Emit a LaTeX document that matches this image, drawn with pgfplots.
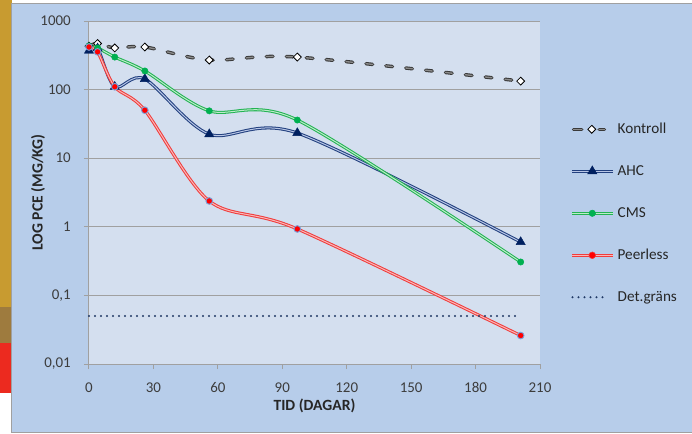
\documentclass[border=0pt]{standalone}
\usepackage{pgfplots}
\usepackage{pgfplotstable}
\pgfplotsset{compat=1.18}
\usepackage{fontspec}
\setmainfont{Carlito}
\definecolor{outerbg}{HTML}{B7CDEA}
\definecolor{plotbg}{HTML}{D4DFEF}
\definecolor{gridc}{HTML}{A0A0A0}
\definecolor{navyO}{HTML}{22407F}
\definecolor{navyI}{HTML}{B8C6E6}
\definecolor{navyM}{HTML}{002060}
\definecolor{greenO}{HTML}{22B352}
\definecolor{greenI}{HTML}{BDEBCB}
\definecolor{greenM}{HTML}{00B050}
\definecolor{redO}{HTML}{F03C3C}
\definecolor{redI}{HTML}{FAB8B8}
\definecolor{redM}{HTML}{FF0000}
\definecolor{redE}{HTML}{7C9ED6}
\definecolor{kO}{HTML}{3A3A3A}
\definecolor{kI}{HTML}{8C8C8C}
\definecolor{detc}{HTML}{1F3864}
\definecolor{txt}{HTML}{262626}
\definecolor{goldc}{HTML}{C89B30}
\definecolor{brownc}{HTML}{9E7B3E}
\definecolor{redstrip}{HTML}{EC2A1F}

\pgfplotstableread{
x y
0 430
4 470
12 405
26 418
56 270
97 298
201 133
}\kontroll
\pgfplotstableread{
x y
0 370
4 400
12 110
26 143
56 22.4
97 23.3
201 0.6
}\ahc
\pgfplotstableread{
x y
0 433
4 405
12 298
26 187
56 49
97 36
201 0.307
}\cms
\pgfplotstableread{
x y
0 418
4 355
12 110
26 50
56 2.38
97 0.93
201 0.026
}\peerless
\pgfplotstableread{
x y
0 0.05
201 0.05
}\det

\begin{document}
\begin{tikzpicture}
% backgrounds (pixel -> pt: x=(px-89)*0.75, y=(364-py)*0.75)
\fill[white] (-66.75pt,-51.75pt) rectangle (452.25pt,273pt);
\fill[goldc] (-66.75pt,42.75pt) rectangle (-57.75pt,273pt);
\fill[brownc] (-66.75pt,15.75pt) rectangle (-57.75pt,42.75pt);
\fill[redstrip] (-66.75pt,-21.75pt) rectangle (-57.75pt,15.75pt);
\filldraw[fill=outerbg, draw=gridc, line width=0.75pt] (-57.75pt,-51pt) rectangle (453pt,270pt);
\begin{axis}[
  at={(0pt,0pt)}, anchor=south west,
  scale only axis, width=338.25pt, height=257.25pt,
  clip=false,
  axis background/.style={fill=plotbg},
  xmin=0, xmax=210, ymode=log, ymin=0.01, ymax=1000,
  xtick={0,30,...,210},
  xticklabels={0,30,60,90,120,150,180,210},
  ytick={0.01,0.1,1,10,100,1000},
  yticklabels={{0,01},{0,1},1,10,100,1000},
  yminorticks=false,
  axis x line*=bottom, axis y line*=left,
  axis line style={gridc, line width=0.75pt, -},
  tick style={gridc, line width=0.75pt},
  major tick length=3.75pt, tick align=outside,
  ymajorgrids, grid style={gridc, line width=0.75pt},
  ticklabel style={font=\fontsize{11.2}{13}\selectfont, text=txt!90!white, inner sep=0pt},
  xticklabel style={anchor=base, yshift=-17.25pt},
  yticklabel style={anchor=east, xshift=-9.75pt},
  xlabel={TID (DAGAR)}, ylabel={LOG PCE (MG/KG)},
  label style={font=\bfseries\fontsize{11.7}{13}\selectfont, text=txt},
  xlabel style={at={(axis description cs:0.5,-0.1224)}, anchor=center},
  ylabel style={at={(axis description cs:-0.1131,0.5)}, anchor=center},
  legend style={at={(axis description cs:1.0665,0.7026)}, anchor=north west,
    draw=none, fill=none, inner sep=0pt, row sep=22.5pt, column sep=2.5pt,
    font=\fontsize{11.4}{13}\selectfont, text=txt,
    nodes={inner sep=0pt, text height=8pt, text depth=1pt}},
  legend cell align=left,
]
% Kontroll
\addplot[kO, line width=2.6pt, line cap=round, dash pattern=on 5pt off 10pt, smooth, forget plot] table {\kontroll};
\addplot[kI, line width=1pt, line cap=round, dash pattern=on 5pt off 10pt, smooth, forget plot] table {\kontroll};
\addplot[only marks, mark=square*, mark size=2.1pt, mark options={rotate=45, fill=white, draw=black, line width=0.6pt}, forget plot] table {\kontroll};
% AHC
\addplot[navyO, line width=2.3pt, smooth, forget plot] table {\ahc};
\addplot[navyI, line width=0.75pt, smooth, forget plot] table {\ahc};
\addplot[only marks, mark=triangle*, mark size=4pt, mark options={fill=navyM, draw=navyM, line width=0.3pt}, forget plot] table {\ahc};
% CMS
\addplot[greenO, line width=2.3pt, smooth, forget plot] table {\cms};
\addplot[greenI, line width=0.75pt, smooth, forget plot] table {\cms};
\addplot[only marks, mark=*, mark size=2.4pt, mark options={fill=greenM, draw=greenM, line width=0.3pt}, forget plot] table {\cms};
% Peerless
\addplot[redO, line width=2.3pt, smooth, forget plot] table {\peerless};
\addplot[redI, line width=0.75pt, smooth, forget plot] table {\peerless};
\addplot[only marks, mark=*, mark size=2.5pt, mark options={fill=redM, draw=redE, line width=0.7pt}, forget plot] table {\peerless};
% Det.grans
\addplot[detc, line width=1.7pt, line cap=round, dash pattern=on 0pt off 4.5pt, forget plot] table {\det};

\addlegendimage{legend image code/.code={
  \draw[kO, line width=2.6pt, line cap=round] (1.3pt,0pt) -- (7.5pt,0pt);
  \draw[kI, line width=1pt, line cap=round] (1.3pt,0pt) -- (7.5pt,0pt);
  \draw[kO, line width=2.6pt, line cap=round] (20.5pt,0pt) -- (24.5pt,0pt);
  \draw[kI, line width=1pt, line cap=round] (20.5pt,0pt) -- (24.5pt,0pt);
  \draw[black, fill=white, line width=0.6pt, rotate around={45:(15pt,0pt)}] (12.9pt,-2.1pt) rectangle (17.1pt,2.1pt);
}}
\addlegendimage{legend image code/.code={
  \draw[navyO, line width=2.3pt] (0pt,0pt) -- (30.75pt,0pt);
  \draw[navyI, line width=0.75pt] (0pt,0pt) -- (30.75pt,0pt);
  \fill[navyM] (15.375pt,4pt) -- (11.91pt,-2pt) -- (18.84pt,-2pt) -- cycle;
}}
\addlegendimage{legend image code/.code={
  \draw[greenO, line width=2.3pt] (0pt,0pt) -- (30.75pt,0pt);
  \draw[greenI, line width=0.75pt] (0pt,0pt) -- (30.75pt,0pt);
  \fill[greenM] (15.375pt,0pt) circle (2.4pt);
}}
\addlegendimage{legend image code/.code={
  \draw[redO, line width=2.3pt] (0pt,0pt) -- (30.75pt,0pt);
  \draw[redI, line width=0.75pt] (0pt,0pt) -- (30.75pt,0pt);
  \filldraw[fill=redM, draw=redO, line width=0.4pt] (15.375pt,0pt) circle (2.5pt);
}}
\addlegendimage{legend image code/.code={
  \draw[detc, line width=1.7pt, line cap=round, dash pattern=on 0pt off 4.5pt] (0.5pt,0pt) -- (25pt,0pt);
}}
\legend{Kontroll,AHC,CMS,Peerless,Det.gräns}
\end{axis}
\pgfresetboundingbox
\path (-66.75pt,-51.75pt) rectangle (452.25pt,273pt);
\end{tikzpicture}
\end{document}
